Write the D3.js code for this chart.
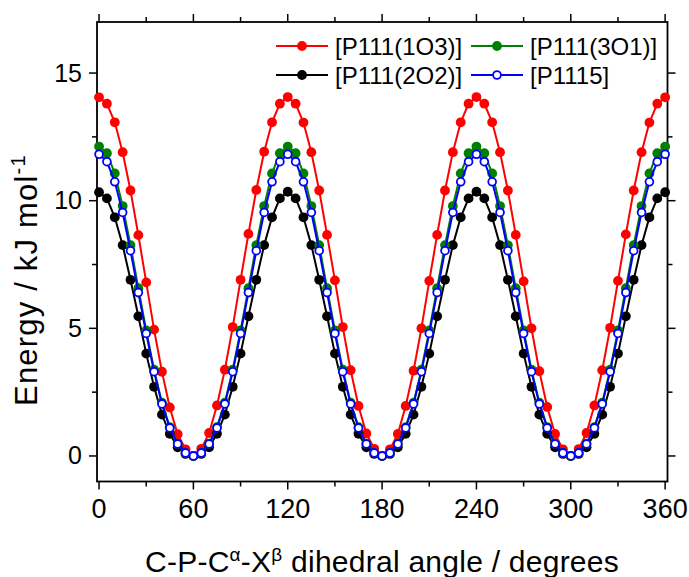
<!DOCTYPE html>
<html><head><meta charset="utf-8">
<script src="https://cdn.jsdelivr.net/npm/d3@7"></script>
<style>body{margin:0;background:#fff}svg{display:block}text{font-family:"Liberation Sans",Arial,sans-serif;fill:#000}</style>
</head><body><svg id="c" width="689" height="577"></svg>
<script>
const angles = [0,5,10,15,20,25,30,35,40,45,50,55,60,65,70,75,80,85,90,95,100,105,110,115,120,125,130,135,140,145,150,155,160,165,170,175,180,185,190,195,200,205,210,215,220,225,230,235,240,245,250,255,260,265,270,275,280,285,290,295,300,305,310,315,320,325,330,335,340,345,350,355,360];
const e1O3 = [14.05,13.80,13.07,11.90,10.40,8.65,6.80,4.95,3.30,1.90,0.85,0.26,0.00,0.28,0.90,1.98,3.38,5.05,6.90,8.70,10.42,11.92,13.07,13.80,14.06,13.80,13.06,11.90,10.40,8.66,6.88,5.05,3.36,1.96,0.88,0.28,0.00,0.26,0.86,1.96,3.34,5.00,6.86,8.66,10.40,11.90,13.07,13.80,14.06,13.80,13.07,11.90,10.40,8.66,6.84,5.00,3.32,1.92,0.86,0.26,0.00,0.27,0.90,1.98,3.36,5.02,6.86,8.68,10.40,11.90,13.06,13.80,14.05];
const e2O2 = [10.33,10.09,9.35,8.26,6.90,5.47,4.01,2.71,1.62,0.87,0.34,0.08,0.00,0.08,0.34,0.87,1.62,2.71,4.01,5.47,6.90,8.26,9.35,10.09,10.35,10.09,9.35,8.26,6.90,5.47,4.01,2.71,1.62,0.87,0.34,0.08,0.00,0.08,0.34,0.87,1.62,2.71,4.01,5.47,6.90,8.26,9.35,10.09,10.35,10.09,9.35,8.26,6.90,5.47,4.01,2.71,1.62,0.87,0.34,0.08,0.00,0.08,0.34,0.87,1.62,2.71,4.01,5.47,6.90,8.26,9.35,10.09,10.33];
const e3O1 = [12.12,11.86,11.07,9.79,8.26,6.57,4.92,3.38,2.09,1.13,0.48,0.12,0.00,0.12,0.48,1.13,2.09,3.38,4.92,6.57,8.26,9.79,11.07,11.86,12.12,11.86,11.07,9.79,8.26,6.57,4.92,3.38,2.09,1.13,0.48,0.12,0.00,0.12,0.48,1.13,2.09,3.38,4.92,6.57,8.26,9.79,11.07,11.86,12.12,11.86,11.07,9.79,8.26,6.57,4.92,3.38,2.09,1.13,0.48,0.12,0.00,0.12,0.48,1.13,2.09,3.38,4.92,6.57,8.26,9.79,11.07,11.86,12.12];
const e1115 = [11.82,11.53,10.74,9.54,8.04,6.40,4.80,3.30,2.04,1.10,0.47,0.12,0.00,0.12,0.47,1.10,2.04,3.30,4.80,6.40,8.04,9.54,10.74,11.53,11.82,11.53,10.74,9.54,8.04,6.40,4.80,3.30,2.04,1.10,0.47,0.12,0.00,0.12,0.47,1.10,2.04,3.30,4.80,6.40,8.04,9.54,10.74,11.53,11.82,11.53,10.74,9.54,8.04,6.40,4.80,3.30,2.04,1.10,0.47,0.12,0.00,0.12,0.47,1.10,2.04,3.30,4.80,6.40,8.04,9.54,10.74,11.53,11.82];
const seriesNames = ["[P111(1O3)]","[P111(2O2)]","[P111(3O1)]","[P1115]"];
const seriesColors = ["#ff0000","#000000","#008000","#0000ff"];
const seriesOpen = [false,false,false,true];
const xTicks = [0,60,120,180,240,300,360];
const xMinor = [30,90,150,210,270,330];
const yTicks = [0,5,10,15];
const yMinor = [2.5,7.5,12.5];

const svg = d3.select("#c");
const x = d3.scaleLinear().domain([-1.3,361.5]).range([97,667.5]);
const y = d3.scaleLinear().domain([-1,17]).range([481.5,22]);
const L=97,R=667.5,T=22,B=481.5;

// ticks
const tg = svg.append("g").attr("stroke","#000").attr("stroke-width",1.5);
xTicks.forEach(v=>{tg.append("line").attr("x1",x(v)).attr("x2",x(v)).attr("y1",B).attr("y2",B+8);
  tg.append("line").attr("x1",x(v)).attr("x2",x(v)).attr("y1",T).attr("y2",T-8);});
xMinor.forEach(v=>{tg.append("line").attr("x1",x(v)).attr("x2",x(v)).attr("y1",B).attr("y2",B+5);
  tg.append("line").attr("x1",x(v)).attr("x2",x(v)).attr("y1",T).attr("y2",T-5);});
yTicks.forEach(v=>{tg.append("line").attr("y1",y(v)).attr("y2",y(v)).attr("x1",L).attr("x2",L-8);
  tg.append("line").attr("y1",y(v)).attr("y2",y(v)).attr("x1",R).attr("x2",R+8);});
yMinor.forEach(v=>{tg.append("line").attr("y1",y(v)).attr("y2",y(v)).attr("x1",L).attr("x2",L-5);
  tg.append("line").attr("y1",y(v)).attr("y2",y(v)).attr("x1",R).attr("x2",R+5);});
svg.append("rect").attr("x",L).attr("y",T).attr("width",R-L).attr("height",B-T)
  .attr("fill","none").attr("stroke","#000").attr("stroke-width",1.8);

xTicks.forEach(v=>svg.append("text").attr("x",x(v)).attr("y",518).attr("text-anchor","middle")
  .attr("font-size",27).text(v));
yTicks.forEach(v=>svg.append("text").attr("x",82).attr("y",y(v)+8.5).attr("text-anchor","end")
  .attr("font-size",25).text(v));

// series
const data = [e1O3,e2O2,e3O1,e1115];
data.forEach((vals,i)=>{
  const pts = angles.map((a,j)=>[a,vals[j]]);
  const g = svg.append("g");
  g.append("path").datum(pts).attr("fill","none").attr("stroke",seriesColors[i]).attr("stroke-width",2)
    .attr("d",d3.line().x(d=>x(d[0])).y(d=>y(d[1])));
  g.selectAll("circle").data(pts).join("circle").attr("cx",d=>x(d[0])).attr("cy",d=>y(d[1]))
    .attr("r",seriesOpen[i]?3.9:4.9)
    .attr("fill",seriesOpen[i]?"#fff":seriesColors[i])
    .attr("stroke",seriesOpen[i]?seriesColors[i]:"none").attr("stroke-width",1.8);
});

// legend (column-wise)
const legPos = [[276,46],[276,75],[471,46],[471,75]];
seriesNames.forEach((n,i)=>{
  const [lx,ly]=legPos[i];
  svg.append("line").attr("x1",lx).attr("x2",lx+52).attr("y1",ly).attr("y2",ly)
    .attr("stroke",seriesColors[i]).attr("stroke-width",2);
  svg.append("circle").attr("cx",lx+26).attr("cy",ly).attr("r",seriesOpen[i]?3.9:4.9)
    .attr("fill",seriesOpen[i]?"#fff":seriesColors[i])
    .attr("stroke",seriesOpen[i]?seriesColors[i]:"none").attr("stroke-width",1.8);
  svg.append("text").attr("x",lx+59).attr("y",ly+8.5).attr("font-size",24).text(n);
});

// axis titles
const xt = svg.append("text").attr("x",145).attr("y",572).attr("font-size",30).attr("letter-spacing",0.25);
xt.append("tspan").text("C-P-C");
xt.append("tspan").attr("dy",-11).attr("font-size",19).text("α");
xt.append("tspan").attr("dy",11).text("-X");
xt.append("tspan").attr("dy",-11).attr("font-size",19).text("β");
xt.append("tspan").attr("dy",11).text(" dihedral angle / degrees");

const yt = svg.append("text").attr("transform","translate(37,406) rotate(-90)").attr("font-size",31).attr("letter-spacing",1.2);
yt.append("tspan").text("Energy / kJ mol");
yt.append("tspan").attr("dy",-12).attr("font-size",20).text("-1");
</script></body></html>
